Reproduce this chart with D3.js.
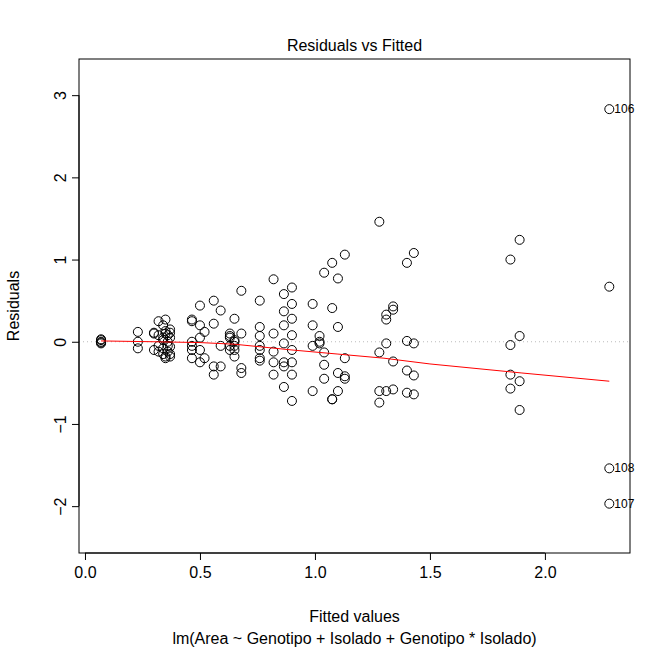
<!DOCTYPE html>
<html><head><meta charset="utf-8">
<script src="https://cdn.jsdelivr.net/npm/d3@7"></script>
<style>body{margin:0;background:#fff}text{font-family:"Liberation Sans",Arial,sans-serif;fill:#000}</style>
</head><body>
<script>
// fitted value groups and their residuals
let fittedGroups = [0.07,0.23,0.30,0.32,0.34,0.35,0.36,0.37,0.465,0.50,0.52,0.56,0.59,0.63,0.65,0.68,0.76,0.82,0.865,0.90,0.99,1.02,1.04,1.075,1.10,1.13,1.28,1.31,1.34,1.40,1.43,1.85,1.89,2.28];
let residualGroups = [
  [0.02,0,-0.02,-0.01,0.03],
  [0.12,0,-0.08],
  [0.11,-0.1,0.1],
  [0.08,-0.12,0.25,-0.05],
  [0.2,-0.15,0.05,-0.08,0.02],
  [0.27,0.13,-0.2,0.1,-0.18],
  [0,0.08,-0.05,-0.12],
  [0.11,-0.15,0.05,0.15,-0.06,-0.18],
  [0.25,0.27,-0.05,-0.1,-0.2,0],
  [0.44,0.05,-0.25,-0.1,0.2],
  [0.12,-0.2],
  [0.5,0.22,-0.3,-0.4],
  [0.38,-0.05,-0.3],
  [0.1,0.05,-0.1,-0.05,0.07],
  [0.28,0,-0.1,-0.18,0.02,-0.05],
  [0.62,0.1,-0.32,-0.38],
  [0.5,0.18,0.07,-0.1,-0.2,-0.23,-0.05],
  [0.76,0.1,-0.12,-0.25,-0.4],
  [0.58,0.37,0.2,-0.02,-0.25,-0.3,-0.55],
  [0.66,0.46,0.28,0.08,-0.1,-0.25,-0.4,-0.72],
  [0.46,0.2,-0.05,-0.6],
  [0.07,0,-0.02],
  [0.84,-0.13,-0.28,-0.45],
  [0.96,0.41,-0.7,-0.7],
  [0.77,0.18,-0.38,-0.6],
  [1.06,-0.2,-0.42,-0.45],
  [1.46,-0.13,-0.6,-0.74],
  [0.33,0.27,-0.02,-0.6],
  [0.43,0.39,-0.24,-0.58],
  [0.96,0.01,-0.35,-0.62],
  [1.08,-0.02,-0.41,-0.64],
  [1.0,-0.04,-0.4,-0.57],
  [1.24,0.07,-0.48,-0.83],
  [2.83,0.67,-1.54,-1.97]
];
let labelled = [{x:2.28,y:2.83,id:"106"},{x:2.28,y:-1.54,id:"108"},{x:2.28,y:-1.97,id:"107"}];
let smoothX = [0.07,0.3,0.5,0.65,0.9,1.1,1.3,1.5,1.9,2.28];
let smoothY = [0.01,0.0,-0.01,-0.03,-0.1,-0.15,-0.2,-0.27,-0.38,-0.48];
let xTicks = [0,0.5,1,1.5,2];
let yTicks = [-2,-1,0,1,2,3];

let W = 668, H = 652;
let pLeft = 79, pRight = 630, pTop = 59, pBottom = 553;

let x = d3.scaleLinear().domain([-0.026,2.37]).range([pLeft,pRight]);
let y = d3.scaleLinear().domain([-2.57,3.44]).range([pBottom,pTop]);

let svg = d3.select("body").append("svg").attr("width",W).attr("height",H);

let points = [];
fittedGroups.forEach((f,i) => residualGroups[i].forEach(r => points.push({f:f,r:r})));

svg.append("line")
  .attr("x1",pLeft).attr("x2",pRight).attr("y1",y(0)).attr("y2",y(0))
  .attr("stroke","#bbb").attr("stroke-dasharray","1,3")

svg.selectAll("circle").data(points).join("circle")
  .attr("cx",d => x(d.f)).attr("cy",d => y(d.r)).attr("r",4.5)
  .attr("fill","none").attr("stroke","black").attr("stroke-width",1)

svg.append("path")
  .datum(smoothX.map((v,i) => [v,smoothY[i]]))
  .attr("d",d3.line().x(d => x(d[0])).y(d => y(d[1])))
  .attr("fill","none").attr("stroke","red").attr("stroke-width",1)

svg.selectAll("text.lab").data(labelled).join("text")
  .attr("class","lab")
  .attr("x",d => x(d.x)+5).attr("y",d => y(d.y)+4)
  .attr("font-size",12).text(d => d.id)

svg.append("rect")
  .attr("x",pLeft).attr("y",pTop).attr("width",pRight-pLeft).attr("height",pBottom-pTop)
  .attr("fill","none").attr("stroke","black")

let xAxis = svg.append("g").attr("transform",`translate(0,${pBottom})`)
  .call(d3.axisBottom(x).tickValues(xTicks).tickFormat(d3.format(".1f")).tickSize(7).tickPadding(7))
xAxis.select(".domain").attr("d",`M${x(0)},0H${x(2)}`)
xAxis.selectAll("text").attr("font-size",16).attr("font-family","Liberation Sans")

let yAxis = svg.append("g").attr("transform",`translate(${pLeft},0)`)
  .call(d3.axisLeft(y).tickValues(yTicks).tickFormat(d3.format("d")).tickSize(7))
yAxis.select(".domain").attr("d",`M0,${y(-2)}V${y(3)}`)
yAxis.selectAll(".tick text")
  .attr("font-size",16).attr("font-family","Liberation Sans")
  .attr("transform","rotate(-90)").attr("x",0).attr("y",-19).attr("dy","0.35em")
  .attr("text-anchor","middle")

svg.append("text").attr("x",(pLeft+pRight)/2).attr("y",51).attr("text-anchor","middle")
  .attr("font-size",16).text("Residuals vs Fitted")
svg.append("text").attr("x",(pLeft+pRight)/2).attr("y",622).attr("text-anchor","middle")
  .attr("font-size",16).text("Fitted values")
svg.append("text").attr("x",(pLeft+pRight)/2).attr("y",644).attr("text-anchor","middle")
  .attr("font-size",16).text("lm(Area ~ Genotipo + Isolado + Genotipo * Isolado)")
svg.append("text").attr("transform",`translate(19,${(pTop+pBottom)/2}) rotate(-90)`)
  .attr("text-anchor","middle").attr("font-size",16).text("Residuals")
</script>
</body></html>
